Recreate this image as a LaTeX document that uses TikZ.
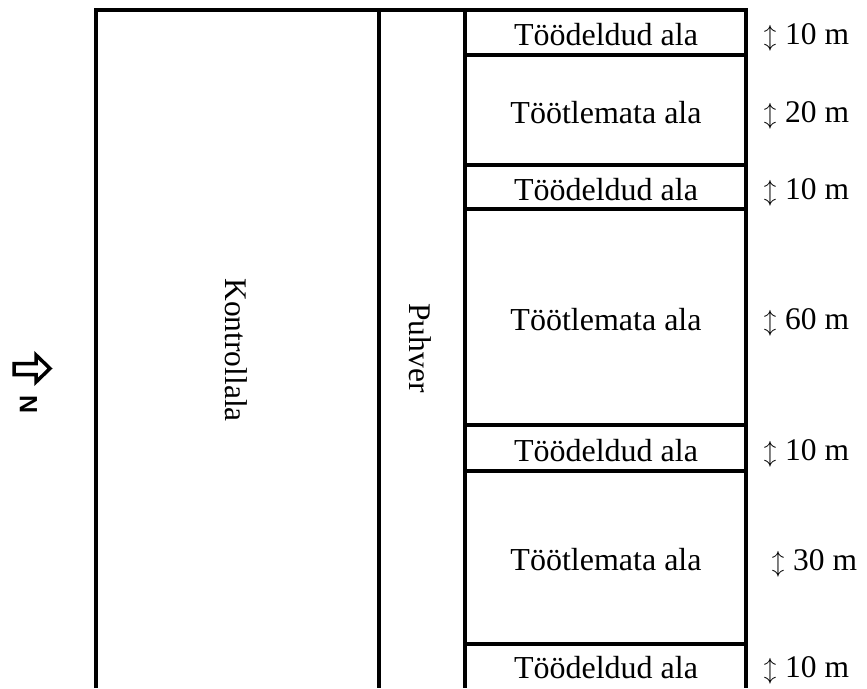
\documentclass[tikz,border=0pt]{standalone}
\usepackage{fontspec}
\setmainfont{Liberation Serif}
\newfontfamily\labelsans{Liberation Sans}
% vertical double arrow used in front of each strip width
\newcommand{\widtharrow}{\makebox[14pt][c]{\fontsize{27}{30}\selectfont$\updownarrow$}\hspace{8pt}}
\begin{document}
\begin{tikzpicture}[x=1pt,y=-1pt,
  wall/.style={line width=3.2pt,line join=miter},
  plotlabel/.style={anchor=base,inner sep=0pt,font=\fontsize{32}{37}\selectfont},
  widthlabel/.style={anchor=base west,inner sep=0pt,font=\fontsize{31.5}{37}\selectfont},
  sidelabel/.style={rotate=-90,inner sep=0pt,font=\fontsize{31.5}{37}\selectfont}]
\useasboundingbox (0,0) rectangle (867,688);
% outer frame (open at the bottom)
\draw[wall] (96,688) -- (96,10) -- (746,10) -- (746,688);
% column dividers
\draw[wall] (379,10) -- (379,688);
\draw[wall] (465,10) -- (465,688);
% strip boundaries
\foreach \yy in {55,165,209,425,471,644}
  \draw[wall] (465,\yy) -- (746,\yy);

% column labels
\node[sidelabel] (kontroll) at (236,350) {Kontrollala};
\node[sidelabel] (puhver) at (420,348) {Puhver};

% strip labels
\node[plotlabel] (s1) at (606,45) {Töödeldud ala};
\node[plotlabel] (s2) at (606,123) {Töötlemata ala};
\node[plotlabel] (s3) at (606,200) {Töödeldud ala};
\node[plotlabel] (s4) at (606,330) {Töötlemata ala};
\node[plotlabel] (s5) at (606,461) {Töödeldud ala};
\node[plotlabel] (s6) at (606,570) {Töötlemata ala};
\node[plotlabel] (s7) at (606,678) {Töödeldud ala};

% strip widths
\node[widthlabel] (w1) at (763,44) {\widtharrow 10 m};
\node[widthlabel] (w2) at (763,122) {\widtharrow 20 m};
\node[widthlabel] (w3) at (763,199) {\widtharrow 10 m};
\node[widthlabel] (w4) at (763,329) {\widtharrow 60 m};
\node[widthlabel] (w5) at (763,460) {\widtharrow 10 m};
\node[widthlabel] (w6) at (771,570) {\widtharrow 30 m};
\node[widthlabel] (w7) at (763,677) {\widtharrow 10 m};

% north arrow
\draw[line width=3.5pt,line join=miter]
  (14,363.5) -- (36,363.5) -- (36,355) -- (50,368.5)
  -- (36,382) -- (36,374.5) -- (14,374.5) -- cycle;
\node[rotate=-90,inner sep=0pt,font=\labelsans\bfseries\fontsize{25}{28}\selectfont]
  (north) at (28.5,404.5) {N};
\end{tikzpicture}
\end{document}
